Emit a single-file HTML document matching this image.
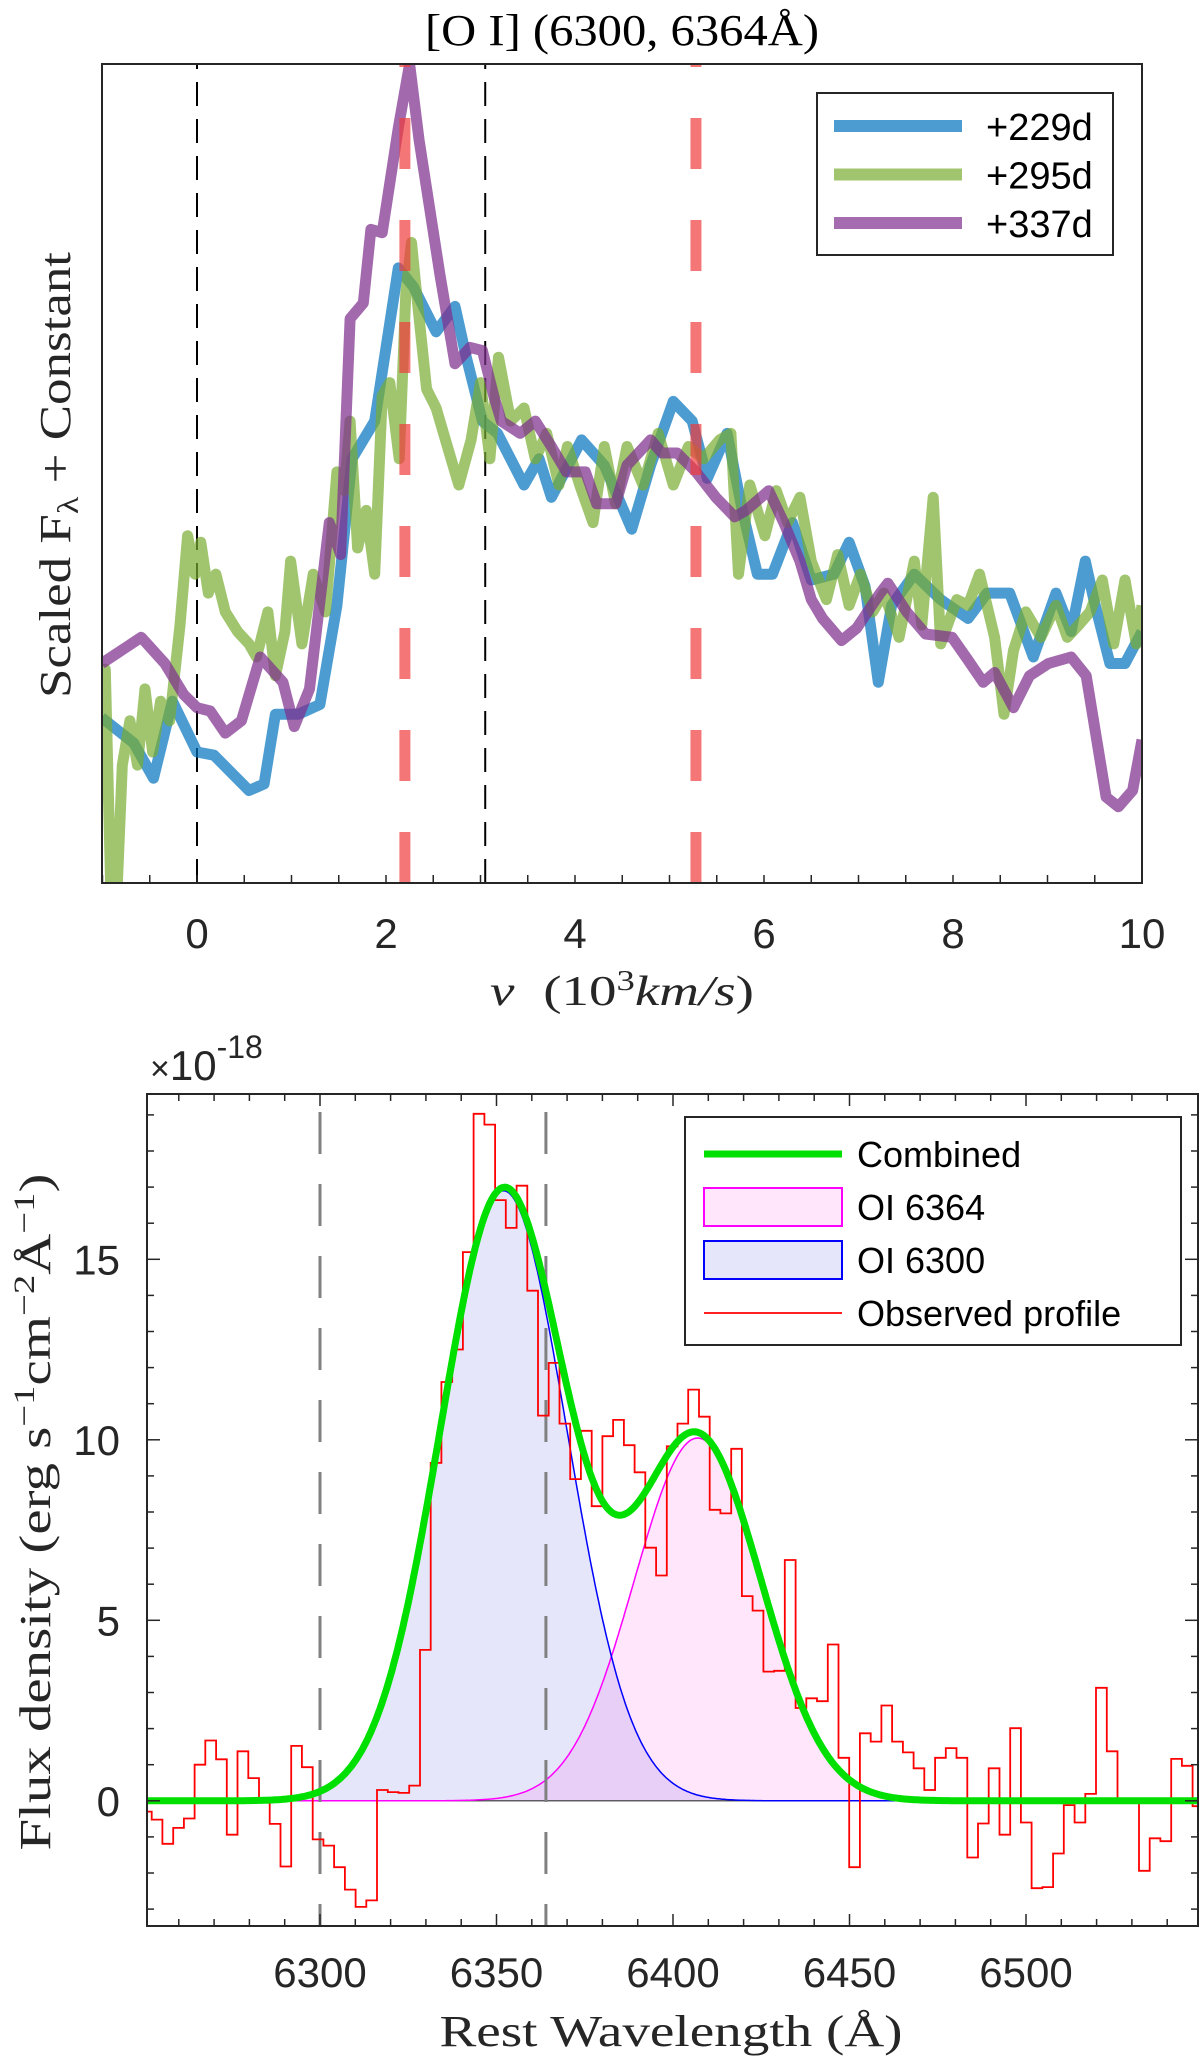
<!DOCTYPE html>
<html><head><meta charset="utf-8"><title>[O I] profiles</title>
<style>
html,body{margin:0;padding:0;background:#fff;}
svg{display:block;}
.sans{font-family:"Liberation Sans",Arial,sans-serif;}
.serif{font-family:"Liberation Serif","Times New Roman",serif;}
</style></head>
<body>
<svg id="fig" width="1200" height="2065" viewBox="0 0 1200 2065" xmlns="http://www.w3.org/2000/svg">
<defs>
<clipPath id="clipTop"><rect x="102" y="64" width="1040" height="819"/></clipPath>
<clipPath id="clipBot"><rect x="147" y="1094" width="1051" height="832"/></clipPath>
</defs>
<g id="topPanel"></g>
<g id="botPanel"></g>
</svg>
<script>
// ===== Top panel data (velocity in 10^3 km/s, scaled flux 0-100) =====
const vBlue = [-1.01,-0.67,-0.46,-0.26,0,0.18,0.55,0.71,0.83,1.07,1.30,1.48,1.64,1.88,2.13,2.29,2.53,2.73,2.85,3.02,3.18,3.46,3.62,3.75,4.07,4.31,4.60,4.80,5.04,5.24,5.40,5.61,5.77,5.93,6.09,6.30,6.50,6.74,6.90,7.07,7.21,7.35,7.59,7.87,8.16,8.36,8.60,8.85,9.09,9.25,9.40,9.49,9.66,9.82,10.0];
const fBlue = [20.2,17.1,12.8,22.2,16.0,15.6,11.3,12.1,20.6,20.6,21.8,33.9,51.8,56.4,75.1,72.8,67.3,70.4,64.2,56.4,54.9,48.6,51.8,47.1,54.1,51.0,43.2,51.0,58.8,56.4,49.4,54.9,45.5,37.7,37.7,44.0,37.0,37.7,41.6,36.2,24.5,33.9,37.7,34.6,32.3,35.4,35.4,27.6,35.4,30.7,39.3,34.6,26.8,26.8,30.7];
const vGreen = [-1.05,-0.97,-0.91,-0.85,-0.79,-0.71,-0.63,-0.55,-0.47,-0.385,-0.29,-0.18,-0.10,-0.02,0.04,0.12,0.20,0.30,0.43,0.55,0.63,0.75,0.83,0.93,0.99,1.11,1.23,1.36,1.48,1.56,1.62,1.70,1.79,1.88,1.96,2.04,2.14,2.21,2.27,2.33,2.43,2.53,2.65,2.77,2.90,3.00,3.10,3.19,3.32,3.46,3.58,3.70,3.83,3.92,4.05,4.19,4.31,4.43,4.55,4.72,4.88,5.04,5.20,5.36,5.53,5.65,5.73,5.85,6.01,6.13,6.25,6.38,6.50,6.66,6.78,6.90,7.02,7.15,7.27,7.43,7.59,7.67,7.79,7.87,8.04,8.16,8.28,8.44,8.54,8.64,8.77,8.93,9.09,9.21,9.33,9.45,9.58,9.70,9.82,9.94,10.0];
const fGreen = [20.2,26.1,-2,-2,14.4,19.8,14.4,23.7,16.0,22.2,19.8,31.5,42.4,37.7,41.6,35.4,37.7,33.1,30.7,29.2,27.6,33.1,25.3,30.7,39.3,29.2,37.7,33.1,50.2,47.9,56.4,40.9,45.5,37.7,59.5,61.1,51.8,72.0,78.2,71.2,60.3,58.0,53.3,48.6,54.1,61.1,51.8,64.2,56.4,58.0,51.8,54.9,48.6,53.3,48.6,44.0,53.3,46.3,53.3,48.6,54.9,48.6,53.3,51.8,54.1,54.9,37.7,48.6,42.4,47.9,44.0,47.1,39.3,34.6,40.1,33.9,37.7,33.1,35.4,30.0,39.3,31.5,47.1,29.2,34.6,33.9,37.7,30.0,20.6,28.4,33.1,30.0,33.9,30.0,31.5,33.1,37.0,29.2,37.0,29.2,33.9];
const vPurple = [-1.01,-0.59,-0.34,-0.14,0.0,0.14,0.30,0.47,0.67,0.91,1.03,1.19,1.40,1.52,1.62,1.76,1.84,1.96,2.13,2.25,2.35,2.57,2.73,2.89,3.02,3.14,3.22,3.42,3.58,3.75,3.91,4.11,4.23,4.43,4.55,4.80,4.92,5.08,5.28,5.49,5.69,5.81,6.05,6.21,6.38,6.50,6.62,6.82,6.98,7.23,7.31,7.51,7.71,7.99,8.16,8.32,8.44,8.64,8.81,9.01,9.25,9.41,9.62,9.75,9.90,10.0];
const fPurple = [26.8,30.0,26.8,23.0,21.4,21.0,18.3,19.8,27.6,24.5,19.1,23.7,44.0,40.1,68.9,70.8,79.8,79.4,92.2,100,90.7,74.3,63.4,65.4,65.0,59.5,56.4,54.9,56.4,53.3,50.2,50.2,46.3,46.3,51.0,54.1,52.5,52.5,50.2,47.1,44.7,45.5,47.9,44.0,39.3,34.6,32.3,29.6,31.1,35.4,36.6,33.1,30.4,30.0,27.2,24.5,25.7,21.4,25.3,26.8,27.6,25.3,10.5,9.3,11.3,17.5];
const seriesLabels = ["+229d","+295d","+337d"];
const topXTicks = [0,2,4,6,8,10];
const blackLines = [0,3.05];
const redLines = [2.2,5.28];

// ===== Bottom panel data (flux in 1e-18 erg/s/cm2/A) =====
const obsStartLam = 6249.28;
const obsStep = 3.04;
const obsFlux = [-0.3,-0.52,-1.19,-0.75,-0.49,1.0,1.67,1.15,-0.94,1.37,0.63,0,-0.64,-1.82,1.52,0.93,-1.07,-1.24,-1.84,-2.46,-2.94,-2.76,0.30,0.24,0.22,0.42,4.18,9.36,11.6,12.5,15.2,19.03,18.73,16.64,15.87,17.04,14.13,10.67,12.13,10.45,8.91,10.25,8.16,10.1,10.55,9.85,9.1,7.01,6.24,9.82,10.45,11.39,10.64,8.06,7.96,9.75,5.67,5.27,3.58,3.6,6.67,2.57,2.84,2.76,4.33,1.19,-1.84,1.87,1.64,2.64,1.64,1.34,0.9,0.3,1.19,1.46,1.19,-1.57,-0.63,0.9,-0.94,2.01,-0.6,-2.42,-2.39,-1.46,-0.12,-0.6,0.19,3.13,1.37,0,0,-1.94,-1.04,-1.12,1.16,0.97,-0.15];
const gaussCenters = [6352, 6407];
const gaussAmps = [16.9, 10.05];
const gaussSigmas = [18, 18];
const botXTicks = [6300,6350,6400,6450,6500];
const botYTicks = [0,5,10,15];
const refLams = [6300,6364];
const legendLabels = ["Combined","OI 6364","OI 6300","Observed profile"];

const NS = "http://www.w3.org/2000/svg";
function mk(tag, attrs, parent){
  const e = document.createElementNS(NS, tag);
  for (const k in attrs) e.setAttribute(k, attrs[k]);
  parent.appendChild(e);
  return e;
}
const topG = document.getElementById('topPanel');
const botG = document.getElementById('botPanel');

// ---------- top axes ----------
const xT = v => 197 + v*94.5;
const yT = f => 883 - f*8.19;

blackLines.forEach(v=>{
  const l = mk('line',{x1:xT(v),x2:xT(v),y1:883,y2:64,stroke:'#000','stroke-width':2,'stroke-dasharray':'24 13'},topG);
  
  
});
function linePath(xs, ys, fx, fy){
  return xs.map((x,i)=>(i?'L':'M')+fx(x).toFixed(1)+' '+fy(ys[i]).toFixed(1)).join(' ');
}
const gTop = mk('g',{'clip-path':'url(#clipTop)'},topG);
const s1 = mk('path',{d:linePath(vBlue,fBlue,xT,yT),fill:'none',stroke:'rgb(0,114,189)','stroke-opacity':0.7,'stroke-width':11,'stroke-linejoin':'round'},gTop);


const s2 = mk('path',{d:linePath(vGreen,fGreen,xT,yT),fill:'none',stroke:'rgb(119,172,48)','stroke-opacity':0.7,'stroke-width':11,'stroke-linejoin':'round'},gTop);


const s3 = mk('path',{d:linePath(vPurple,fPurple,xT,yT),fill:'none',stroke:'rgb(126,47,142)','stroke-opacity':0.72,'stroke-width':11,'stroke-linejoin':'round'},gTop);


redLines.forEach(v=>{
  const l = mk('line',{x1:xT(v),x2:xT(v),y1:883,y2:64,stroke:'rgb(240,60,60)','stroke-opacity':0.7,'stroke-width':11,'stroke-dasharray':'51 51'},topG);
  
  
});
const fr1 = mk('rect',{x:102,y:64,width:1040,height:819,fill:'none',stroke:'#262626','stroke-width':2},topG);


for (let v=-1; v<=10.001; v+=0.5){
  mk('line',{x1:xT(v),x2:xT(v),y1:883,y2:875,stroke:'#262626','stroke-width':1.5},topG);
}
topXTicks.forEach(v=>{
  const t = mk('text',{x:xT(v),y:948,'text-anchor':'middle','font-size':42,fill:'#262626',class:'sans'},topG);
  t.textContent = v;
  
  
});
const title = mk('text',{x:622,y:45,'text-anchor':'middle','font-size':44,fill:'#000',class:'serif',textLength:394,lengthAdjust:'spacingAndGlyphs'},topG);
title.textContent = '[O I] (6300, 6364Å)';


const xl = mk('text',{x:622,y:1005,'text-anchor':'middle','font-size':42,fill:'#262626',class:'serif','font-style':'italic',textLength:264,lengthAdjust:'spacingAndGlyphs'},topG);
xl.innerHTML = 'v<tspan font-style="normal" dx="22">(10</tspan><tspan font-style="normal" font-size="28" dy="-15">3</tspan><tspan dy="15">km/s</tspan><tspan font-style="normal">)</tspan>';


const yl = mk('text',{x:0,y:0,'text-anchor':'middle','font-size':44,fill:'#262626',class:'serif',transform:'translate(70,475) rotate(-90)',textLength:446,lengthAdjust:'spacingAndGlyphs'},topG);
yl.innerHTML = 'Scaled F<tspan font-size="30" dy="8">λ</tspan><tspan dy="-8"> + Constant</tspan>';


const lgT = mk('g',{},topG);


mk('rect',{x:817,y:93,width:296,height:162,fill:'#fff',stroke:'#262626','stroke-width':2},lgT);
const lcol = ['rgb(77,156,209)','rgb(160,197,110)','rgb(165,109,176)'];
seriesLabels.forEach((s,i)=>{
  const y = 126 + i*48.5;
  const ln = mk('line',{x1:834,x2:962,y1:y,y2:y,stroke:lcol[i],'stroke-width':12},lgT);
  
  
  const t = mk('text',{x:986,y:y+14,'font-size':38,fill:'#000',class:'sans'},lgT);
  t.textContent = s;
  
  
});

// ---------- bottom axes ----------
const xB = l => 320 + (l-6300)*3.53;
const yB = f => 1800.8 - f*36.1;
const lams = [];
for (let l=6251; l<=6549; l+=0.5) lams.push(l);
const g = (l,i)=> gaussAmps[i]*Math.exp(-Math.pow(l-gaussCenters[i],2)/(2*gaussSigmas[i]*gaussSigmas[i]));
const gB = mk('g',{'clip-path':'url(#clipBot)'},botG);
function area(fn){
  let d = 'M'+xB(lams[0])+' '+yB(0);
  lams.forEach(l=>{ d += ' L'+xB(l).toFixed(1)+' '+yB(fn(l)).toFixed(1); });
  d += ' L'+xB(lams[lams.length-1])+' '+yB(0)+' Z';
  return d;
}
function curve(fn){
  return lams.map((l,i)=>(i?'L':'M')+xB(l).toFixed(1)+' '+yB(fn(l)).toFixed(1)).join(' ');
}
const a1 = mk('path',{d:area(l=>g(l,1)),fill:'#ffe6fb'},gB);


const a0 = mk('path',{d:area(l=>g(l,0)),fill:'#e6e6fa'},gB);


const ao = mk('path',{d:area(l=>Math.min(g(l,0),g(l,1))),fill:'#e7cff7'},gB);


const zl = mk('line',{x1:xB(6300),x2:xB(6465),y1:yB(0),y2:yB(0),stroke:'#333','stroke-width':1.2},gB);


const c1 = mk('path',{d:curve(l=>g(l,1)),fill:'none',stroke:'#ff00ff','stroke-width':1.5},gB);


const c0 = mk('path',{d:curve(l=>g(l,0)),fill:'none',stroke:'#0000ff','stroke-width':1.5},gB);


refLams.forEach(l=>{
  const r = mk('line',{x1:xB(l),x2:xB(l),y1:1926,y2:1094,stroke:'#808080','stroke-width':3,'stroke-dasharray':'42 30','stroke-dashoffset':'20'},gB);
  
  
});
let sd = '';
obsFlux.forEach((f,i)=>{
  const l0 = obsStartLam + i*obsStep, l1 = l0 + obsStep;
  sd += (i? ' V'+yB(f).toFixed(1) : 'M'+xB(l0).toFixed(1)+' '+yB(f).toFixed(1)) + ' H'+xB(l1).toFixed(1);
});
const obs = mk('path',{d:sd,fill:'none',stroke:'#ff0000','stroke-width':1.8},gB);


const comb = mk('path',{d:curve(l=>g(l,0)+g(l,1)),fill:'none',stroke:'#00e000','stroke-width':7},gB);


const fr2 = mk('rect',{x:147,y:1094,width:1051,height:832,fill:'none',stroke:'#262626','stroke-width':2},botG);


for (let l=6260; l<=6545; l+=10){
  const big = l%50===0;
  mk('line',{x1:xB(l),x2:xB(l),y1:1926,y2:big?1914:1919,stroke:'#262626','stroke-width':1.5},botG);
  mk('line',{x1:xB(l),x2:xB(l),y1:1094,y2:big?1106:1101,stroke:'#262626','stroke-width':1.5},botG);
}
for (let f=-3; f<=19; f+=1){
  const big = f%5===0;
  mk('line',{x1:147,x2:big?160:154,y1:yB(f),y2:yB(f),stroke:'#262626','stroke-width':1.5},botG);
  mk('line',{x1:1198,x2:big?1185:1191,y1:yB(f),y2:yB(f),stroke:'#262626','stroke-width':1.5},botG);
}
botXTicks.forEach(l=>{
  const t = mk('text',{x:xB(l),y:1987,'text-anchor':'middle','font-size':42,fill:'#262626',class:'sans'},botG);
  t.textContent = l;
  
  
});
botYTicks.forEach(f=>{
  const t = mk('text',{x:120,y:yB(f)+15,'text-anchor':'end','font-size':42,fill:'#262626',class:'sans'},botG);
  t.textContent = f;
  
  
});
const ex = mk('text',{x:150,y:1080,'font-size':42,fill:'#262626',class:'sans'},botG);
ex.innerHTML = '<tspan font-size="34">×</tspan>10<tspan font-size="32" dy="-22">-18</tspan>';


const bxl = mk('text',{x:671,y:2046,'text-anchor':'middle','font-size':44,fill:'#262626',class:'serif',textLength:463,lengthAdjust:'spacingAndGlyphs'},botG);
bxl.textContent = 'Rest Wavelength (Å)';


const byl = mk('text',{x:0,y:0,'text-anchor':'middle','font-size':44,fill:'#262626',class:'serif',transform:'translate(50,1512) rotate(-90)',textLength:677,lengthAdjust:'spacingAndGlyphs'},botG);
byl.innerHTML = 'Flux density (erg s<tspan font-size="30" dy="-16">−1</tspan><tspan dy="16">cm</tspan><tspan font-size="30" dy="-16">−2</tspan><tspan dy="16">Å</tspan><tspan font-size="30" dy="-16">−1</tspan><tspan dy="16">)</tspan>';


const lgB = mk('g',{},botG);


mk('rect',{x:685,y:1117,width:496,height:228,fill:'#fff',stroke:'#262626','stroke-width':2},lgB);
const ly = [1154,1207,1260,1313];
const sw0 = mk('line',{x1:704,x2:842,y1:ly[0],y2:ly[0],stroke:'#00e000','stroke-width':7},lgB);


const sw1 = mk('rect',{x:704,y:ly[1]-19,width:138,height:38,fill:'#ffe6fb',stroke:'#ff00ff','stroke-width':2},lgB);


const sw2 = mk('rect',{x:704,y:ly[2]-19,width:138,height:38,fill:'#e6e6fa',stroke:'#0000ff','stroke-width':2},lgB);


const sw3 = mk('line',{x1:704,x2:842,y1:ly[3],y2:ly[3],stroke:'#ff0000','stroke-width':1.8},lgB);


legendLabels.forEach((s,i)=>{
  const t = mk('text',{x:857,y:ly[i]+13,'font-size':36,fill:'#000',class:'sans'},lgB);
  t.textContent = s;
  
  
});
</script>
</body></html>
